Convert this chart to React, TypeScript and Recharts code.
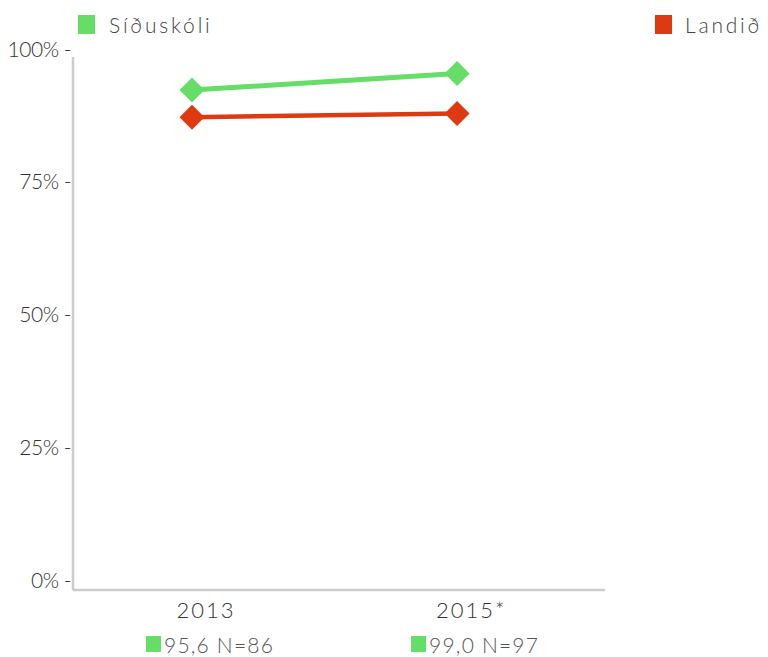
import React from "react";
import { LineChart, Line, XAxis, YAxis, ReferenceLine } from "recharts";

const categories = ["2013", "2015*"];
const schoolValues = [92.1, 95.2];
const nationValues = [87.0, 87.7];
const sampleLabels = ["95,6 N=86", "99,0 N=97"];
const yTicks = [0, 25, 50, 75, 100];
const seriesNames = ["Síðuskóli", "Landið"];

const GREEN = "#66dd66";
const RED = "#dd3a12";
const FONT = "Lato, 'Open Sans', sans-serif";

const data = categories.map((c, i) => ({
  idx: i,
  cat: c,
  school: schoolValues[i],
  nation: nationValues[i],
}));

const X_MIN = -0.449;
const X_MAX = 1.558;
const Y_MIN = -1.88;

const Diamond = (color: string) => (props: any) => {
  const { cx, cy } = props;
  if (cx == null || cy == null) return null;
  const r = 12.5;
  return (
    <polygon
      points={`${cx},${cy - r} ${cx + r},${cy} ${cx},${cy + r} ${cx - r},${cy}`}
      fill={color}
    />
  );
};

const YTick = (props: any) => {
  const { y, payload } = props;
  return (
    <text
      x={71}
      y={y}
      textAnchor="end"
      dominantBaseline="central"
      fontFamily={FONT}
      fontWeight={300}
      fontSize={21}
      letterSpacing={-0.5}
      fill="#333"
    >
      {`${payload.value}% -`}
    </text>
  );
};

const XTick = (props: any) => {
  const { x, payload } = props;
  const i = payload.value as number;
  const base = 590;
  return (
    <g>
      <text
        x={x + 14}
        y={base + 19}
        textAnchor="middle"
        dominantBaseline="central"
        fontFamily={FONT}
        fontWeight={300}
        fontSize={22}
        letterSpacing={2}
        fill="#333"
      >
        {categories[i]}
      </text>
      <rect x={x - 46} y={base + 46} width={15} height={16} fill={GREEN} />
      <text
        x={x - 28}
        y={base + 54}
        textAnchor="start"
        dominantBaseline="central"
        fontFamily={FONT}
        fontWeight={300}
        fontSize={21}
        letterSpacing={1.2}
        fill="#555"
      >
        {sampleLabels[i]}
      </text>
    </g>
  );
};

export default function App() {
  const legendStyle: React.CSSProperties = {
    position: "absolute",
    top: 12,
    display: "flex",
    alignItems: "center",
    fontFamily: FONT,
    fontWeight: 300,
    fontSize: 21,
    color: "#444",
    letterSpacing: 2.8,
  };
  return (
    <div style={{ position: "absolute", left: 0, top: 0, width: 768, height: 657 }}>
      <div style={{ ...legendStyle, left: 78 }}>
        <span style={{ width: 17, height: 19, background: GREEN, display: "inline-block", marginRight: 14 }} />
        {seriesNames[0]}
      </div>
      <div style={{ ...legendStyle, left: 655 }}>
        <span style={{ width: 17, height: 19, background: RED, display: "inline-block", marginRight: 13 }} />
        {seriesNames[1]}
      </div>
      <LineChart
        width={768}
        height={657}
        data={data}
        margin={{ top: 48, right: 163, bottom: 0, left: 0 }}
      >
        <XAxis
          dataKey="idx"
          type="number"
          domain={[X_MIN, X_MAX]}
          ticks={[0, 1]}
          tick={<XTick />}
          tickLine={false}
          axisLine={{ stroke: "#cccccc", strokeWidth: 2.5 }}
          allowDataOverflow
          height={67}
        />
        <YAxis
          type="number"
          domain={[Y_MIN, 100]}
          ticks={yTicks}
          tick={<YTick />}
          tickLine={false}
          axisLine={false}
          allowDataOverflow
          width={73}
        />
        <ReferenceLine
          segment={[
            { x: X_MIN, y: 98.3 },
            { x: X_MIN, y: Y_MIN },
          ]}
          stroke="#cccccc"
          strokeWidth={2.5}
          ifOverflow="visible"
        />
        <Line
          dataKey="nation"
          stroke={RED}
          strokeWidth={4.5}
          dot={Diamond(RED)}
          activeDot={false}
          isAnimationActive={false}
        />
        <Line
          dataKey="school"
          stroke={GREEN}
          strokeWidth={5}
          dot={Diamond(GREEN)}
          activeDot={false}
          isAnimationActive={false}
        />
      </LineChart>
    </div>
  );
}
